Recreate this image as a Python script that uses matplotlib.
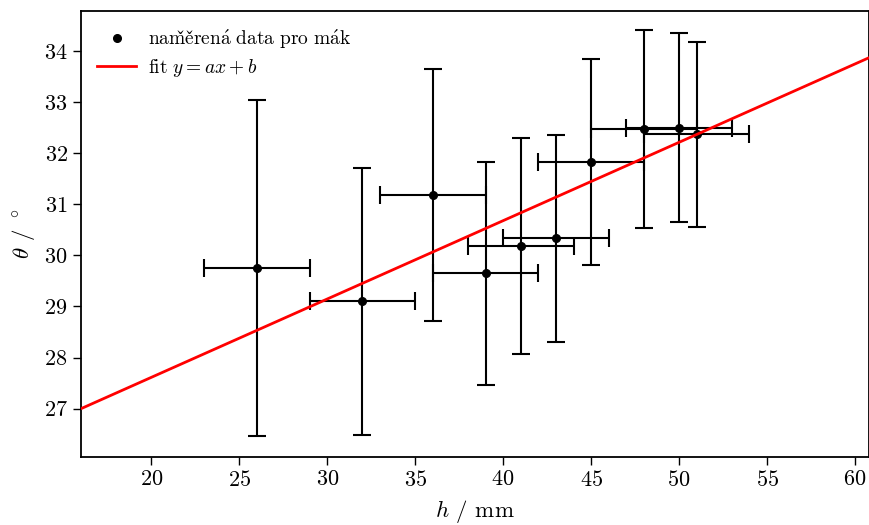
import numpy as np
import matplotlib
matplotlib.use("Agg")
import matplotlib.pyplot as plt

plt.rcParams['font.family'] = ['cmr10', 'DejaVu Serif']
plt.rcParams['mathtext.fontset'] = 'cm'
plt.rcParams['axes.formatter.use_mathtext'] = True
plt.rcParams['font.size'] = 16
plt.rcParams['axes.linewidth'] = 1.3

# naměřená data
h = [26, 32, 36, 39, 41, 43, 45, 48, 50, 51]
theta = [29.75, 29.10, 31.18, 29.65, 30.18, 30.33, 31.83, 32.47, 32.50, 32.37]
h_err = [3, 3, 3, 3, 3, 3, 3, 3, 3, 3]
theta_err = [3.28, 2.61, 2.47, 2.18, 2.11, 2.02, 2.02, 1.93, 1.85, 1.81]

# parametry fitu
a = 0.1533
b = 24.547

fig, ax = plt.subplots(figsize=(8.7, 5.25), dpi=100)
ax.errorbar(h, theta, xerr=h_err, yerr=theta_err, fmt='o', color='black',
            ms=5.5, capsize=6.2, elinewidth=1.5, capthick=1.5)
data_handle, = ax.plot([], [], 'o', color='black', ms=5.5,
                       label=r'$\mathrm{nam\check{e}\check{r}en\acute{a}\ data\ pro\ m\acute{a}k}$')

xs = np.array([16, 61])
fit_handle, = ax.plot(xs, a * xs + b, color='red', lw=2,
                      label=r'$\mathrm{fit}\ y = ax + b$', zorder=3)

ax.set_xlim(16, 60.8)
ax.set_ylim(26.06, 34.78)
ax.set_xticks(range(20, 61, 5))
ax.set_yticks(range(27, 35))
ax.tick_params(labelsize=16, length=5.5, width=1.0, pad=4)
ax.set_xlabel(r'$h$ / mm', fontsize=16.5, labelpad=6)
ax.set_ylabel(r'$\theta$ / $^\circ$', fontsize=16.5, labelpad=5)
ax.legend(handles=[data_handle, fit_handle], loc='upper left', frameon=False,
          fontsize=14, handlelength=2.0, handletextpad=0.6, labelspacing=0.3,
          borderaxespad=0.45)

plt.subplots_adjust(left=0.093, right=0.999, top=0.979, bottom=0.13)
plt.savefig('out.png')
